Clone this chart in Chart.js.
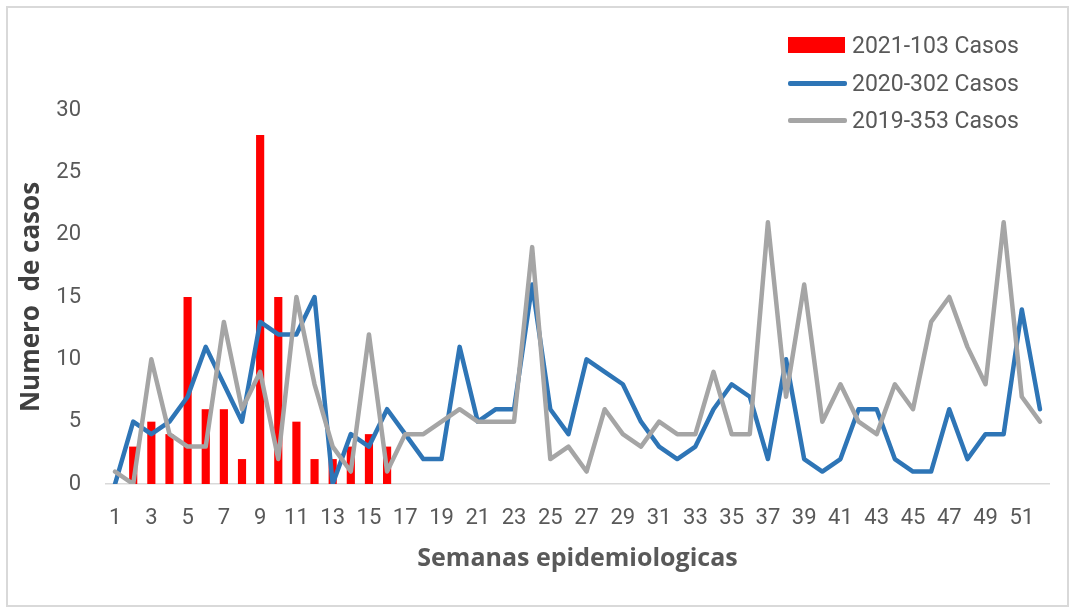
<!DOCTYPE html>
<html>
<head>
<meta charset="utf-8">
<script src="https://cdn.jsdelivr.net/npm/chart.js@4/dist/chart.umd.min.js"></script>
<style>
    body { margin: 0; background: #fff; }
    #wrap { position: relative; width: 1073px; height: 611px; }
    #frame { position: absolute; left: 6px; top: 6px; width: 1063px; height: 601px; border: 2px solid #d9d9d9; box-sizing: border-box; }
    #chart { position: absolute; left: 0; top: 0; }
    .leg { position: absolute; left: 788px; font-family: Roboto, sans-serif; font-size: 23px; color: #595959; }
    .leg .mark { position: absolute; left: 0; }
    .leg .txt { position: absolute; left: 64px; top: 0; white-space: nowrap; line-height: 1; transform: translateY(-50%); }
</style>
</head>
<body>
<div id="wrap">
    <div id="frame"></div>
    <canvas id="chart" width="1073" height="611"></canvas>
    <div id="legend"></div>
</div>
<script>
// semanas epidemiologicas 1..52
const weeks = [];
for (let w = 1; w <= 52; w++) weeks.push(String(w));

const casos2021 = [0, 3, 5, 4, 15, 6, 6, 2, 28, 15, 5, 2, 2, 3, 4, 3];

const casos2020 = [0, 5, 4, 5, 7, 11, 8, 5, 13, 12, 12, 15, 0, 4, 3, 6,
    4, 2, 2, 11, 5, 6, 6, 16, 6, 4, 10, 9, 8, 5, 3, 2, 3, 6, 8, 7,
    2, 10, 2, 1, 2, 6, 6, 2, 1, 1, 6, 2, 4, 4, 14, 6];

const casos2019 = [1, 0, 10, 4, 3, 3, 13, 6, 9, 2, 15, 8, 3, 1, 12, 1,
    4, 4, 5, 6, 5, 5, 5, 19, 2, 3, 1, 6, 4, 3, 5, 4, 4, 9, 4, 4,
    21, 7, 16, 5, 8, 5, 4, 8, 6, 13, 15, 11, 8, 21, 7, 5];

const yTicks = [0, 5, 10, 15, 20, 25, 30];

const seriesLabels = ['2021-103 Casos', '2020-302 Casos', '2019-353 Casos'];
const seriesColors = ['#ff0000', '#2e75b6', '#a5a5a5'];

Chart.defaults.font.family = 'Roboto, sans-serif';
Chart.defaults.color = '#595959';

new Chart(document.getElementById('chart'), {
    type: 'bar',
    data: {
        labels: weeks,
        datasets: [{
            label: seriesLabels[0],
            data: casos2021,
            backgroundColor: seriesColors[0],
            barPercentage: 0.45,
            categoryPercentage: 1,
            order: 3
        }, {
            type: 'line',
            label: seriesLabels[1],
            data: casos2020,
            borderColor: seriesColors[1],
            borderWidth: 4.5,
            pointRadius: 0,
            tension: 0,
            borderJoinStyle: 'round',
            borderCapStyle: 'round',
            order: 2
        }, {
            type: 'line',
            label: seriesLabels[2],
            data: casos2019,
            borderColor: seriesColors[2],
            borderWidth: 4.5,
            pointRadius: 0,
            tension: 0,
            borderJoinStyle: 'round',
            borderCapStyle: 'round',
            order: 1
        }]
    },
    options: {
        responsive: false,
        animation: false,
        layout: { padding: { left: 16, right: 24, top: 110, bottom: 37 } },
        plugins: { legend: { display: false }, tooltip: { enabled: false } },
        scales: {
            x: {
                offset: true,
                grid: { display: false, drawTicks: false },
                border: { color: '#d9d9d9', width: 1.5 },
                ticks: {
                    autoSkip: false,
                    maxRotation: 0,
                    padding: 21,
                    font: { size: 22 },
                    callback: (v, i) => (i % 2 === 0 ? weeks[i] : '')
                },
                title: {
                    display: true,
                    text: 'Semanas epidemiologicas',
                    font: { family: 'Open Sans', size: 25, weight: 'bold' },
                    color: '#595959',
                    padding: 0
                },
                afterFit: s => { s.height = 90; }
            },
            y: {
                min: 0,
                max: 30,
                grid: { display: false, drawTicks: false },
                border: { display: false },
                afterBuildTicks: s => { s.ticks = yTicks.map(v => ({ value: v })); },
                ticks: { padding: 25, font: { size: 22 } },
                title: {
                    display: true,
                    text: 'Numero  de casos',
                    font: { family: 'Open Sans', size: 26, weight: 'bold' },
                    color: '#404040',
                    padding: 0
                },
                afterFit: s => { s.width = 90; }
            }
        }
    }
});

// legend built by hand, vertical at top right like the original
const legend = document.getElementById('legend');
const legendY = [45, 83, 120];
seriesLabels.forEach((lab, i) => {
    const row = document.createElement('div');
    row.className = 'leg';
    row.style.top = legendY[i] + 'px';
    const mark = document.createElement('div');
    mark.className = 'mark';
    if (i === 0) {
        mark.style.cssText = 'width:57px;height:16px;top:-8px;background:' + seriesColors[i];
    } else {
        mark.style.cssText = 'width:59px;height:5px;top:-2px;border-radius:2px;background:' + seriesColors[i];
    }
    const txt = document.createElement('div');
    txt.className = 'txt';
    txt.textContent = lab;
    row.appendChild(mark);
    row.appendChild(txt);
    legend.appendChild(row);
});
</script>
</body>
</html>
